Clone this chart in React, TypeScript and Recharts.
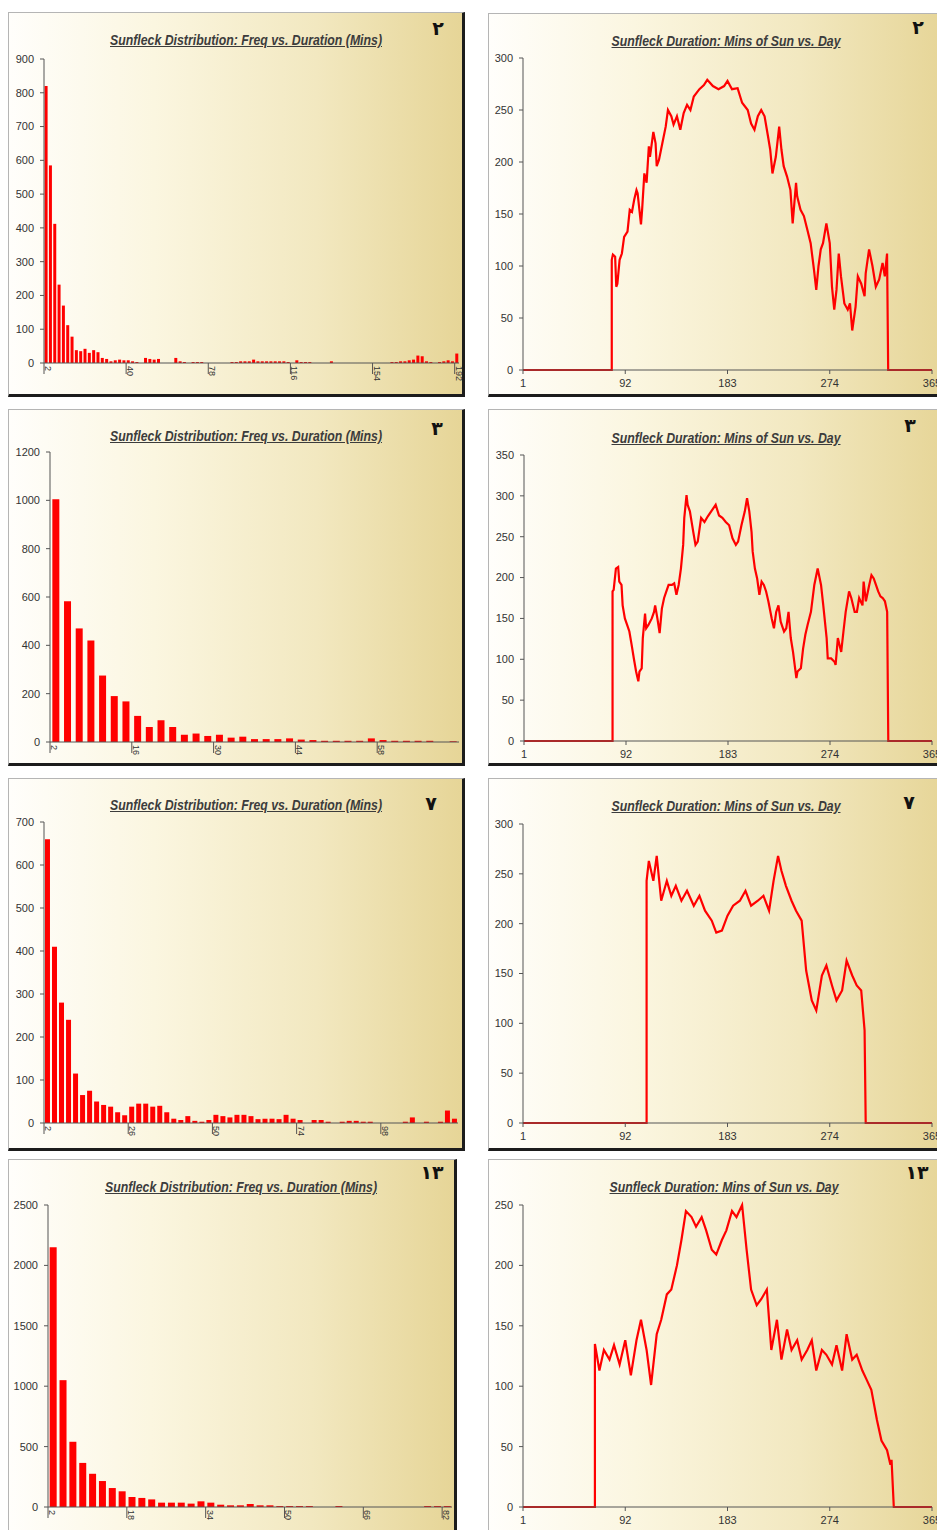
import React from "react";
import { BarChart, Bar, LineChart, Line, XAxis, YAxis } from "recharts";

// duration bins (mins) used as bar categories
const durationBins = [
  2, 4, 6, 8, 10, 12, 14, 16, 18, 20, 22, 24, 26, 28, 30, 32, 34, 36, 38, 40,
  42, 44, 46, 48, 50, 52, 54, 56, 58, 60, 62, 64, 66, 68, 70, 72, 74, 76, 78, 80,
  82, 84, 86, 88, 90, 92, 94, 96, 98, 100, 102, 104, 106, 108, 110, 112, 114, 116, 118, 120,
  122, 124, 126, 128, 130, 132, 134, 136, 138, 140, 142, 144, 146, 148, 150, 152, 154, 156, 158, 160,
  162, 164, 166, 168, 170, 172, 174, 176, 178, 180, 182, 184, 186, 188, 190, 192,
];

// sunfleck counts per duration bin
const freqSite2 = [
  820, 585, 412, 232, 170, 112, 78, 38, 35, 42,
  30, 38, 32, 15, 12, 5, 8, 10, 8, 8,
  5, 3, 0, 15, 12, 10, 12, 0, 0, 0,
  15, 5, 3, 0, 3, 3, 3, 0, 0, 0,
  0, 0, 0, 3, 3, 5, 5, 5, 10, 5,
  5, 5, 5, 5, 5, 5, 3, 0, 8, 3,
  3, 3, 0, 0, 0, 0, 5, 0, 0, 0,
  0, 0, 0, 0, 0, 0, 0, 0, 0, 0,
  3, 3, 5, 5, 8, 10, 22, 20, 5, 3,
  0, 3, 5, 8, 5, 28,
];
const freqSite3 = [
  1005, 582, 470, 420, 275, 190, 168, 108, 62, 90,
  62, 30, 35, 25, 30, 18, 22, 12, 12, 12,
  15, 10, 8, 5, 5, 5, 5, 15, 8, 5,
  5, 5, 5, 0, 3,
];
const freqSite7 = [
  660, 410, 280, 240, 115, 65, 75, 50, 42, 38,
  25, 18, 38, 45, 45, 38, 40, 25, 10, 7,
  16, 5, 3, 7, 19, 16, 13, 19, 19, 16,
  9, 10, 10, 9, 19, 10, 7, 0, 7, 7,
  3, 0, 3, 5, 5, 3, 3, 0, 0, 0,
  0, 3, 13, 0, 3, 0, 3, 29, 10,
];
const freqSite13 = [
  2150, 1050, 540, 365, 275, 215, 157, 130, 83, 75,
  63, 36, 36, 36, 28, 47, 36, 19, 14, 14,
  25, 14, 14, 8, 8, 8, 8, 0, 0, 8,
  0, 0, 0, 0, 0, 0, 0, 0, 8, 8,
  8,
];

const freqTicks2 = [0, 100, 200, 300, 400, 500, 600, 700, 800, 900];
const freqTicks3 = [0, 200, 400, 600, 800, 1000, 1200];
const freqTicks7 = [0, 100, 200, 300, 400, 500, 600, 700];
const freqTicks13 = [0, 500, 1000, 1500, 2000, 2500];

// [day, minutes of sun]
const sunSite2 = [
  [1, 0], [80, 0], [80, 106], [81, 111], [83, 109], [84, 80], [85, 83], [87, 106], [89, 112], [91, 128],
  [94, 133], [96, 154], [98, 152], [100, 164], [102, 173], [103, 170], [106, 140], [107, 154], [109, 189], [111, 180],
  [113, 215], [114, 205], [117, 229], [119, 218], [120, 196], [122, 202], [125, 218], [128, 234], [130, 250], [133, 244],
  [135, 236], [138, 244], [141, 231], [144, 247], [147, 255], [150, 250], [153, 263], [158, 270], [162, 274], [165, 279],
  [170, 273], [175, 270], [180, 273], [183, 278], [187, 270], [192, 271], [196, 257], [201, 250], [204, 237], [207, 231],
  [210, 244], [213, 250], [216, 244], [219, 225], [221, 212], [223, 189], [226, 205], [229, 234], [231, 212], [233, 196],
  [236, 186], [239, 173], [241, 141], [244, 180], [245, 167], [248, 154], [251, 148], [254, 135], [257, 122], [260, 96],
  [262, 77], [264, 100], [266, 116], [268, 122], [271, 141], [274, 122], [276, 80], [278, 58], [280, 77], [282, 112],
  [284, 90], [287, 64], [290, 58], [292, 64], [294, 38], [297, 61], [299, 90], [302, 83], [305, 71], [306, 93],
  [309, 116], [312, 100], [315, 80], [318, 87], [321, 103], [323, 90], [325, 112], [326, 0], [365, 0],
];
const sunSite3 = [
  [1, 0], [80, 0], [80, 183], [81, 185], [83, 211], [85, 213], [86, 195], [88, 191], [89, 166], [91, 150],
  [93, 142], [95, 134], [97, 118], [99, 101], [101, 85], [103, 73], [104, 85], [106, 89], [107, 126], [109, 156],
  [110, 138], [112, 142], [115, 150], [117, 158], [118, 166], [120, 150], [122, 132], [124, 162], [126, 175], [128, 183],
  [130, 191], [133, 191], [135, 193], [137, 179], [139, 191], [141, 211], [143, 240], [144, 273], [146, 301], [147, 289],
  [149, 281], [152, 256], [154, 240], [156, 244], [159, 273], [162, 268], [165, 275], [168, 281], [172, 289], [175, 276],
  [178, 273], [181, 268], [184, 264], [187, 248], [190, 240], [192, 244], [195, 264], [198, 281], [200, 297], [202, 281],
  [204, 256], [205, 232], [207, 211], [209, 199], [211, 179], [213, 195], [215, 191], [217, 183], [219, 171], [222, 150],
  [224, 138], [226, 158], [228, 166], [230, 146], [233, 134], [235, 138], [237, 158], [239, 126], [241, 109], [244, 77],
  [245, 85], [248, 89], [250, 113], [252, 130], [254, 142], [257, 158], [260, 191], [263, 211], [266, 191], [268, 166],
  [271, 126], [272, 101], [275, 101], [278, 97], [279, 93], [281, 126], [284, 109], [286, 134], [288, 158], [291, 183],
  [293, 175], [296, 158], [298, 158], [300, 175], [303, 166], [304, 195], [306, 171], [309, 191], [311, 203], [313, 199],
  [315, 191], [317, 183], [319, 177], [321, 175], [323, 171], [325, 158], [326, 0], [365, 0],
];
const sunSite7 = [
  [1, 0], [111, 0], [111, 243], [113, 263], [117, 243], [120, 268], [124, 223], [129, 243], [133, 228], [137, 238],
  [142, 223], [147, 233], [153, 218], [158, 228], [163, 213], [169, 203], [173, 191], [178, 193], [183, 208], [188, 218],
  [194, 223], [199, 233], [204, 218], [210, 223], [215, 228], [220, 213], [224, 243], [228, 268], [231, 253], [235, 238],
  [240, 223], [244, 213], [249, 203], [253, 153], [258, 123], [262, 113], [267, 148], [271, 158], [276, 138], [280, 123],
  [285, 133], [289, 163], [294, 148], [298, 138], [302, 133], [305, 93], [306, 0], [365, 0],
];
const sunSite13 = [
  [1, 0], [65, 0], [65, 135], [69, 113], [73, 130], [78, 122], [82, 134], [87, 118], [92, 138], [97, 109],
  [102, 138], [106, 155], [111, 130], [115, 101], [120, 143], [124, 155], [129, 176], [133, 180], [138, 200], [142, 221],
  [146, 245], [151, 240], [155, 232], [160, 240], [164, 229], [169, 213], [173, 209], [178, 221], [182, 229], [187, 245],
  [191, 240], [196, 250], [200, 213], [204, 180], [209, 167], [213, 172], [218, 180], [222, 130], [227, 155], [231, 122],
  [236, 147], [240, 130], [245, 138], [249, 122], [254, 130], [258, 138], [262, 113], [267, 130], [271, 126], [276, 118],
  [280, 134], [285, 113], [289, 143], [294, 122], [298, 126], [303, 113], [307, 105], [311, 97], [316, 72], [320, 55],
  [325, 47], [328, 35], [329, 39], [331, 0], [365, 0],
];

const dayTicks = [1, 92, 183, 274, 365];
const sunTicks2 = [0, 50, 100, 150, 200, 250, 300];
const sunTicks3 = [0, 50, 100, 150, 200, 250, 300, 350];
const sunTicks7 = [0, 50, 100, 150, 200, 250, 300];
const sunTicks13 = [0, 50, 100, 150, 200, 250];

const siteLabels = ["٢", "٣", "٧", "١٣"];
const freqTitle = "Sunfleck Distribution: Freq vs. Duration (Mins)";
const sunTitle = "Sunfleck Duration: Mins of Sun vs. Day";

const tickFont = "'Liberation Sans', Arial, sans-serif";
const titleFont = "'Liberation Sans', Arial, sans-serif";
const panelBg = "linear-gradient(to right, #fffefb 0%, #fbf6e0 32%, #f2e8c0 68%, #e6d597 100%)";
const red = "#ff0000";

// page layout: panel box, plot area, title centre, site number centre
const freqFrames = [
  { box: { x: 8, y: 12, w: 457, h: 385 }, plot: { l: 44, r: 459, t: 59, b: 363 }, title: [246, 40], num: [438, 28] },
  { box: { x: 8, y: 409, w: 457, h: 357 }, plot: { l: 50, r: 459, t: 452, b: 742 }, title: [246, 436], num: [437, 428] },
  { box: { x: 8, y: 778, w: 457, h: 373 }, plot: { l: 44, r: 458, t: 822, b: 1123 }, title: [246, 805], num: [431, 803] },
  { box: { x: 8, y: 1159, w: 449, h: 376 }, plot: { l: 48, r: 452, t: 1205, b: 1507 }, title: [241, 1187], num: [432, 1172] },
];
const sunFrames = [
  { box: { x: 488, y: 13, w: 460, h: 384 }, plot: { l: 523, r: 932, t: 58, b: 370 }, title: [726, 41], num: [918, 27] },
  { box: { x: 488, y: 409, w: 460, h: 357 }, plot: { l: 524, r: 932, t: 455, b: 741 }, title: [726, 438], num: [910, 425] },
  { box: { x: 488, y: 778, w: 460, h: 373 }, plot: { l: 523, r: 932, t: 824, b: 1123 }, title: [726, 806], num: [909, 802] },
  { box: { x: 488, y: 1159, w: 460, h: 376 }, plot: { l: 523, r: 932, t: 1205, b: 1507 }, title: [724, 1187], num: [917, 1172] },
];

function PanelFrame({ frame, title, num }: any) {
  const { box } = frame;
  return (
    <>
      <div
        style={{
          position: "absolute",
          left: box.x,
          top: box.y,
          width: box.w,
          height: box.h,
          boxSizing: "border-box",
          background: panelBg,
          borderTop: "1px solid #b5b5b5",
          borderLeft: "1px solid #b5b5b5",
          borderRight: "3px solid #1c1c1c",
          borderBottom: "3px solid #1c1c1c",
        }}
      />
      <div
        style={{
          position: "absolute",
          left: frame.title[0],
          top: frame.title[1] - 10,
          transform: "translateX(-50%) scaleX(0.82)",
          whiteSpace: "nowrap",
          fontFamily: titleFont,
          fontSize: 15,
          lineHeight: "19px",
          fontWeight: "bold",
          fontStyle: "italic",
          textDecoration: "underline",
          color: "#3c3c3c",
        }}
      >
        {title}
      </div>
      <div
        style={{
          position: "absolute",
          left: frame.num[0],
          top: frame.num[1] - 12,
          transform: "translateX(-50%)",
          fontFamily: "'DejaVu Sans', sans-serif",
          fontSize: 19,
          lineHeight: "24px",
          fontWeight: "bold",
          color: "#111",
        }}
      >
        {num}
      </div>
    </>
  );
}

function RotTick({ x, y, payload, shift }: any) {
  const tx = x - shift;
  return (
    <g>
      <line x1={tx} y1={y} x2={tx} y2={y + 11} stroke="#555" />
      <text
        x={tx + 1}
        y={y + 3}
        transform={`rotate(90 ${tx + 1} ${y + 3})`}
        fontSize={9}
        fill="#333"
        fontFamily={tickFont}
      >
        {payload.value}
      </text>
    </g>
  );
}

function FreqChart({ frame, values, ticks, every, gap }: any) {
  const { box, plot } = frame;
  const data = values.map((v: number, i: number) => ({ dur: String(durationBins[i]), freq: v }));
  const band = (plot.r - plot.l) / values.length;
  return (
    <div style={{ position: "absolute", left: box.x, top: box.y }}>
      <BarChart
        width={box.w}
        height={box.h}
        data={data}
        margin={{ top: plot.t - box.y, right: box.x + box.w - plot.r, left: 0, bottom: 0 }}
        barCategoryGap={gap}
      >
        <XAxis
          dataKey="dur"
          interval={every - 1}
          height={box.y + box.h - plot.b}
          tickSize={0}
          tickMargin={0}
          tickLine={false}
          axisLine={{ stroke: "#555" }}
          tick={(p: any) => <RotTick {...p} shift={band / 2} />}
        />
        <YAxis
          width={plot.l - box.x}
          domain={[0, ticks[ticks.length - 1]]}
          ticks={ticks}
          interval={0}
          tickSize={4}
          tickMargin={6}
          axisLine={{ stroke: "#555" }}
          tickLine={{ stroke: "#555" }}
          tick={{ fontSize: 11, fill: "#333", fontFamily: tickFont }}
        />
        <Bar dataKey="freq" fill={red} isAnimationActive={false} />
      </BarChart>
    </div>
  );
}

function SunChart({ frame, points, ticks }: any) {
  const { box, plot } = frame;
  const data = points.map(([day, mins]: number[]) => ({ day, mins }));
  return (
    <div style={{ position: "absolute", left: box.x, top: box.y }}>
      <LineChart
        width={box.w}
        height={box.h}
        data={data}
        margin={{ top: plot.t - box.y, right: box.x + box.w - plot.r, left: 0, bottom: 0 }}
      >
        <XAxis
          dataKey="day"
          type="number"
          domain={[1, 365]}
          ticks={dayTicks}
          interval={0}
          height={box.y + box.h - plot.b}
          tickSize={4}
          tickMargin={5}
          axisLine={{ stroke: "#555" }}
          tickLine={{ stroke: "#555" }}
          tick={{ fontSize: 11, fill: "#333", fontFamily: tickFont }}
        />
        <YAxis
          width={plot.l - box.x}
          domain={[0, ticks[ticks.length - 1]]}
          ticks={ticks}
          interval={0}
          tickSize={4}
          tickMargin={6}
          axisLine={{ stroke: "#555" }}
          tickLine={{ stroke: "#555" }}
          tick={{ fontSize: 11, fill: "#333", fontFamily: tickFont }}
        />
        <Line
          type="linear"
          dataKey="mins"
          stroke={red}
          strokeWidth={2.2}
          dot={false}
          isAnimationActive={false}
        />
      </LineChart>
    </div>
  );
}

export default function App() {
  // barCategoryGap is applied on both sides of each bar
  const freqSets = [
    { values: freqSite2, ticks: freqTicks2, every: 19, gap: "14%" },
    { values: freqSite3, ticks: freqTicks3, every: 7, gap: "20%" },
    { values: freqSite7, ticks: freqTicks7, every: 12, gap: "14%" },
    { values: freqSite13, ticks: freqTicks13, every: 8, gap: "17%" },
  ];
  const sunSets = [
    { points: sunSite2, ticks: sunTicks2 },
    { points: sunSite3, ticks: sunTicks3 },
    { points: sunSite7, ticks: sunTicks7 },
    { points: sunSite13, ticks: sunTicks13 },
  ];
  return (
    <div
      style={{
        position: "absolute",
        left: 0,
        top: 0,
        width: 937,
        height: 1530,
        overflow: "hidden",
        background: "#fff",
      }}
    >
      {freqSets.map((s, i) => (
        <React.Fragment key={"f" + i}>
          <PanelFrame frame={freqFrames[i]} title={freqTitle} num={siteLabels[i]} />
          <FreqChart frame={freqFrames[i]} {...s} />
        </React.Fragment>
      ))}
      {sunSets.map((s, i) => (
        <React.Fragment key={"s" + i}>
          <PanelFrame frame={sunFrames[i]} title={sunTitle} num={siteLabels[i]} />
          <SunChart frame={sunFrames[i]} {...s} />
        </React.Fragment>
      ))}
    </div>
  );
}
